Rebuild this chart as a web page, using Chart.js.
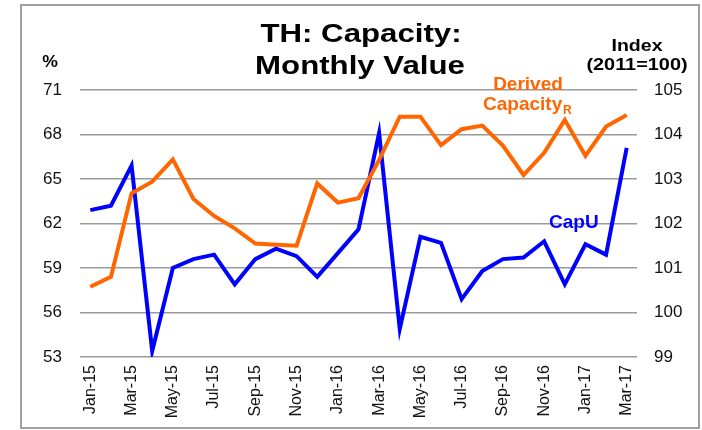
<!DOCTYPE html>
<html>
<head>
<meta charset="utf-8">
<script src="https://cdn.jsdelivr.net/npm/chart.js@4/dist/chart.umd.min.js"></script>
<style>
  html, body { margin: 0; padding: 0; background: #fff; }
  #wrap { width: 702px; height: 430px; position: relative; }
</style>
</head>
<body>
<div id="wrap"><canvas id="chart"></canvas></div>
<script>
const months = ['Jan-15','Feb-15','Mar-15','Apr-15','May-15','Jun-15','Jul-15','Aug-15','Sep-15','Oct-15','Nov-15','Dec-15',
  'Jan-16','Feb-16','Mar-16','Apr-16','May-16','Jun-16','Jul-16','Aug-16','Sep-16','Oct-16','Nov-16','Dec-16',
  'Jan-17','Feb-17','Mar-17'];
// CapU, % (left axis)
const capU = [62.9, 63.2, 65.9, 53.4, 59.0, 59.6, 59.9, 57.9, 59.6, 60.3, 59.8, 58.4,
  60.0, 61.6, 68.1, 54.9, 61.1, 60.7, 56.9, 58.8, 59.6, 59.7, 60.8, 57.9,
  60.6, 59.9, 67.1];
// Derived capacity, index 2011=100 (right axis)
const derivedCap = [100.58, 100.8, 102.68, 102.94, 103.44, 102.55, 102.17, 101.89, 101.55, 101.52, 101.5, 102.9,
  102.47, 102.57, 103.43, 104.4, 104.4, 103.76, 104.12, 104.2, 103.75, 103.09, 103.59, 104.33,
  103.52, 104.18, 104.44];

const FONT = '"Liberation Sans", Arial, sans-serif';

// text drawn on the canvas: title, axis captions, series labels, frame
const textPlugin = {
  id: 'textPlugin',
  afterDraw(chart) {
    const ctx = chart.ctx;
    function txt(s, x, y, size, color, align, sx) {
      ctx.save();
      ctx.font = 'bold ' + size + 'px ' + FONT;
      ctx.fillStyle = color;
      ctx.textAlign = align;
      ctx.textBaseline = 'alphabetic';
      ctx.translate(x, y);
      ctx.scale(sx || 1, 1);
      ctx.fillText(s, 0, 0);
      ctx.restore();
    }
    // frame
    ctx.save();
    ctx.strokeStyle = '#a0a0a0';
    ctx.lineWidth = 2;
    ctx.strokeRect(21, 5, 678, 423);
    ctx.restore();

    txt('TH: Capacity:', 361, 42, 26, '#000', 'center', 1.2);
    txt('Monthly Value', 360, 74, 26, '#000', 'center', 1.2);
    txt('%', 50, 67, 16, '#000', 'center', 1.1);
    txt('Index', 637, 51, 17, '#000', 'center', 1.15);
    txt('(2011=100)', 637, 70, 17, '#000', 'center', 1.17);

    txt('Derived', 528, 90, 19, '#FF6600', 'center');
    txt('Capacity', 483, 110, 19, '#FF6600', 'left');
    txt('R', 563, 114, 12, '#FF6600', 'left');
    txt('CapU', 549, 228, 19, '#0000FF', 'left');
  }
};

new Chart(document.getElementById('chart'), {
  type: 'line',
  data: {
    labels: months,
    datasets: [
      {
        label: 'Derived Capacity',
        data: derivedCap,
        yAxisID: 'y2',
        borderColor: '#FF6600',
        backgroundColor: '#FF6600',
        borderWidth: 4,
        pointRadius: 0,
        tension: 0
      },
      {
        label: 'CapU',
        data: capU,
        yAxisID: 'y',
        borderColor: '#0000FF',
        backgroundColor: '#0000FF',
        borderWidth: 4,
        pointRadius: 0,
        tension: 0
      }
    ]
  },
  options: {
    responsive: true,
    maintainAspectRatio: false,
    animation: false,
    layout: { padding: { top: 90, left: 0, right: 0, bottom: 0 } },
    plugins: {
      legend: { display: false },
      title: { display: false },
      tooltip: { enabled: false }
    },
    scales: {
      x: {
        offset: true,
        grid: { display: false, drawTicks: false },
        border: { display: false },
        ticks: {
          autoSkip: false,
          maxRotation: 90,
          minRotation: 90,
          padding: 8,
          color: '#111',
          font: { family: FONT, size: 16 },
          callback: function (v, i) { return i % 2 === 0 ? months[i] : ''; }
        },
        afterFit: function (s) { s.height = 73; }
      },
      y: {
        position: 'left',
        min: 53,
        max: 71,
        ticks: { stepSize: 3, padding: 18, color: '#111', font: { family: FONT, size: 17 } },
        grid: { color: '#9a9a9a', lineWidth: 1.5, drawTicks: false },
        border: { display: false },
        afterFit: function (s) { s.width = 80; }
      },
      y2: {
        position: 'right',
        min: 99,
        max: 105,
        ticks: { stepSize: 1, padding: 17, color: '#111', font: { family: FONT, size: 17 } },
        grid: { display: false, drawTicks: false },
        border: { display: false },
        afterFit: function (s) { s.width = 65; }
      }
    }
  },
  plugins: [textPlugin]
});
</script>
</body>
</html>
